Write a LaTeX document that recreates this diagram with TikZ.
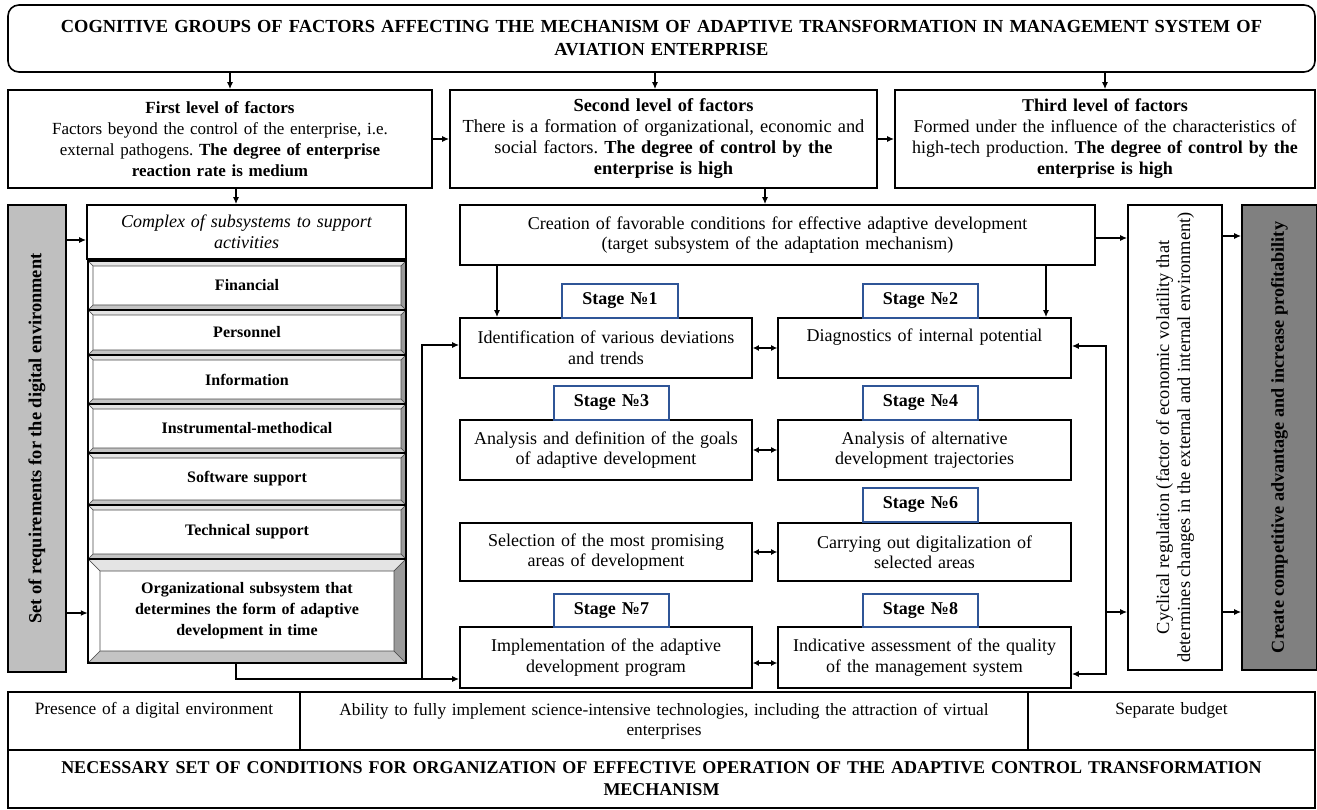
\documentclass[tikz,border=0pt]{standalone}
\usepackage{fontspec}
\setmainfont{Liberation Serif}
\usetikzlibrary{arrows.meta}
\frenchspacing
\definecolor{stageblue}{HTML}{2F5597}
\definecolor{reqgray}{HTML}{BFBFBF}
\definecolor{darkbar}{HTML}{808080}
\definecolor{bevtop}{HTML}{E4E4E4}
\definecolor{bevbot}{HTML}{C4C4C4}
\definecolor{bevright}{HTML}{9A9A9A}
\tikzset{
  base/.style={draw=black, line width=1.6pt, fill=white, inner sep=0pt, align=center,
    font=\fontsize{18}{20.5}\selectfont},
  lvl/.style={base},
  stagelbl/.style={draw=stageblue, line width=1.3pt, fill=white, inner sep=0pt, align=center,
    font=\fontsize{18}{20}\selectfont\bfseries},
  plain/.style={draw=none, inner sep=0pt, align=center},
  conn/.style={line width=1.5pt, -{Latex[length=7pt,width=6pt]}},
  dconn/.style={line width=1.5pt, {Latex[length=6pt,width=6pt]}-{Latex[length=6pt,width=6pt]}},
  bevline/.style={draw=black!70, line width=0.6pt},
}
\newcommand\boxnode[7]{%
  \pgfmathsetmacro\bxw{#5-#3}\pgfmathsetmacro\bxh{#6-#4}\pgfmathsetmacro\bxt{#5-#3-4}%
  \node[#1, minimum width=\bxw pt, minimum height=\bxh pt, text width=\bxt pt]
    (#2) at ({(#3+#5)/2},{(#4+#6)/2}) {#7};}
% bevel box: name x1 y1 x2 y2 bevel text
\newcommand\bevelbox[7]{%
  \pgfmathsetmacro\bva{#2+#6}\pgfmathsetmacro\bvb{#3+#6}%
  \pgfmathsetmacro\bvc{#4-#6}\pgfmathsetmacro\bvd{#5-#6}%
  \fill[white] (#2,#3) rectangle (#4,#5);
  \filldraw[bevline, fill=bevtop] (#2,#3) -- (#4,#3) -- (\bvc,\bvb) -- (\bva,\bvb) -- cycle;
  \filldraw[bevline, fill=bevbot] (#2,#5) -- (#4,#5) -- (\bvc,\bvd) -- (\bva,\bvd) -- cycle;
  \filldraw[bevline, fill=white] (#2,#3) -- (\bva,\bvb) -- (\bva,\bvd) -- (#2,#5) -- cycle;
  \filldraw[bevline, fill=bevright] (#4,#3) -- (\bvc,\bvb) -- (\bvc,\bvd) -- (#4,#5) -- cycle;
  \draw[line width=1.4pt] (#2,#3) rectangle (#4,#5);
  \pgfmathsetmacro\bxw{#4-#2}\pgfmathsetmacro\bxh{#5-#3}\pgfmathsetmacro\bxt{#4-#2-30}%
  \node[plain, minimum width=\bxw pt, minimum height=\bxh pt, text width=\bxt pt,
    font=\fontsize{16}{21}\selectfont\bfseries] (#1) at ({(#2+#4)/2},{(#3+#5)/2}) {#7};}
\begin{document}
\begin{tikzpicture}[x=1pt,y=-1pt]
\useasboundingbox (0,0) rectangle (1317,810);
% title
\node[base, rounded corners=11pt, minimum width=1307pt, minimum height=67pt, text width=1300pt,
  font=\fontsize{18.4}{23}\selectfont\bfseries] (title) at (661.5,38.5)
  {COGNITIVE GROUPS OF FACTORS AFFECTING THE MECHANISM OF ADAPTIVE TRANSFORMATION IN MANAGEMENT SYSTEM OF\\AVIATION ENTERPRISE};
% levels
\boxnode{lvl, font=\fontsize{17}{21}\selectfont}{lvA}{8}{90}{432}{188}{\textbf{First level of factors}\\Factors beyond the control of the enterprise, i.e.\\external pathogens. \textbf{The degree of enterprise}\\\textbf{reaction rate is medium}}
\boxnode{lvl, font=\fontsize{18.4}{21}\selectfont}{lvB}{450}{90}{877}{188}{\textbf{Second level of factors}\\There is a formation of organizational, economic and\\social factors. \textbf{The degree of control by the}\\\textbf{enterprise is high}}
\boxnode{lvl, font=\fontsize{18}{21}\selectfont}{lvC}{895}{90}{1315}{188}{\textbf{Third level of factors}\\Formed under the influence of the characteristics of\\high-tech production. \textbf{The degree of control by the}\\\textbf{enterprise is high}}
\draw[conn] (title.south -| 230,0) -- (lvA.north -| 230,0);
\draw[conn] (title.south -| 655,0) -- (lvB.north -| 655,0);
\draw[conn] (title.south -| 1105,0) -- (lvC.north -| 1105,0);
\draw[conn] (lvA.east) -- (lvB.west);
\draw[conn] (lvB.east) -- (lvC.west);
% left gray bar
\boxnode{base, fill=reqgray}{req}{8}{205}{66}{672}{}
\node[plain, rotate=90, font=\fontsize{18.4}{20}\selectfont\bfseries] (reqtxt) at (req.center) {Set of requirements for the digital environment};
% complex
\boxnode{base, font=\fontsize{18}{20.5}\selectfont\itshape}{cplx}{87}{205}{406}{259}{Complex of subsystems to support\\activities}
\draw[conn] (lvA.south -| 236,0) -- (cplx.north -| 236,0);
\bevelbox{fin}{88}{261}{406}{310}{5}{Financial\\[2pt]}
\bevelbox{pers}{88}{310}{406}{355}{5}{Personnel\\[2pt]}
\bevelbox{info}{88}{355}{406}{404}{5}{Information\\[2pt]}
\bevelbox{instr}{88}{404}{406}{453}{5}{Instrumental-methodical\\[2pt]}
\bevelbox{soft}{88}{453}{406}{505}{5}{Software support\\[2pt]}
\bevelbox{tech}{88}{505}{406}{559}{5}{Technical support\\[2pt]}
\bevelbox{org}{88}{559}{406}{663}{12}{Organizational subsystem that\\determines the form of adaptive\\development in time\\[2pt]}
\draw[conn] (req.east |- 0,240) -- (cplx.west |- 0,240);
\draw[conn] (req.east |- 0,613) -- (org.west |- 0,613);
% creation
\boxnode{base}{crea}{460}{205}{1095}{265}{Creation of favorable conditions for effective adaptive development\\(target subsystem of the adaptation mechanism)}
\draw[conn] (lvB.south -| 765,0) -- (crea.north -| 765,0);
% stage boxes
\boxnode{base}{sA}{460}{318}{752}{378}{Identification of various deviations\\and trends}
\boxnode{base}{sB}{778}{318}{1071}{378}{Diagnostics of internal potential\\\strut}
\boxnode{base}{sC}{460}{420}{752}{480}{Analysis and definition of the goals\\of adaptive development}
\boxnode{base}{sD}{778}{420}{1071}{480}{Analysis of alternative\\development trajectories}
\boxnode{base}{sE}{460}{523}{752}{581}{Selection of the most promising\\areas of development}
\boxnode{base}{sF}{778}{523}{1071}{581}{Carrying out digitalization of\\selected areas}
\boxnode{base}{sG}{460}{627}{752}{688}{Implementation of the adaptive\\development program}
\boxnode{base}{sH}{778}{627}{1071}{688}{Indicative assessment of the quality\\of the management system}
% stage labels
\boxnode{stagelbl}{lA}{562}{284}{678}{318}{Stage №1}
\boxnode{stagelbl}{lB}{863}{284}{978}{318}{Stage №2}
\boxnode{stagelbl}{lC}{554}{386}{669}{420}{Stage №3}
\boxnode{stagelbl}{lD}{863}{386}{978}{420}{Stage №4}
\boxnode{stagelbl}{lF}{863}{488}{978}{522}{Stage №6}
\boxnode{stagelbl}{lG}{554}{594}{669}{627}{Stage №7}
\boxnode{stagelbl}{lH}{863}{594}{978}{627}{Stage №8}
% arrows from creation
\draw[conn] (crea.south -| 497,0) -- (sA.north -| 497,0);
\draw[conn] (crea.south -| 1046,0) -- (sB.north -| 1046,0);
% double arrows
\draw[dconn] (sA.east |- 0,348) -- (sB.west |- 0,348);
\draw[dconn] (sC.east |- 0,450) -- (sD.west |- 0,450);
\draw[dconn] (sE.east |- 0,552) -- (sF.west |- 0,552);
\draw[dconn] (sG.east |- 0,663) -- (sH.west |- 0,663);
% cyclical and dark bar
\boxnode{base}{cyc}{1128}{205}{1222}{670}{}
\node[plain, rotate=90, font=\fontsize{18.4}{21}\selectfont] (cyctxt) at (cyc.center) {Cyclical regulation (factor of economic volatility that\\determines changes in the external and internal environment)};
\boxnode{base, fill=darkbar}{adv}{1242}{205}{1317}{670}{}
\node[plain, rotate=90, font=\fontsize{18.2}{20}\selectfont\bfseries] (advtxt) at (adv.center) {Create competitive advantage and increase profitability};
\draw[conn] (crea.east |- 0,238) -- (cyc.west |- 0,238);
\draw[conn] (cyc.east |- 0,236) -- (adv.west |- 0,236);
\draw[conn] (cyc.east |- 0,612) -- (adv.west |- 0,612);
% right feedback line
\coordinate (rt) at (1106,346);
\coordinate (rb) at (1106,674);
\draw[conn] (rb) -- (rt) -- (sB.east |- rt);
\draw[conn] (rt) -- (rb) -- (sH.east |- rb);
\draw[conn] (rb |- 0,612) -- (cyc.west |- 0,612);
% left feedback line
\coordinate (lb) at (236,679);
\coordinate (lm) at (422,679);
\draw[conn] (org.south -| lb) -- (lb) -- (sG.west |- lb);
\draw[conn] (lm) -- (lm |- 0,345) -- (sA.west |- 0,345);
% bottom table
\boxnode{base, font=\fontsize{17.3}{20}\selectfont}{cP}{8}{692}{300}{750}{Presence of a digital environment\\\strut}
\boxnode{base, font=\fontsize{17.3}{20}\selectfont}{cA}{300}{692}{1028}{750}{Ability to fully implement science-intensive technologies, including the attraction of virtual\\enterprises}
\boxnode{base, font=\fontsize{17.3}{20}\selectfont}{cB}{1028}{692}{1315}{750}{Separate budget\\\strut}
\boxnode{base, font=\fontsize{18}{22}\selectfont\bfseries}{cN}{8}{750}{1315}{808}{NECESSARY SET OF CONDITIONS FOR ORGANIZATION OF EFFECTIVE OPERATION OF THE ADAPTIVE CONTROL TRANSFORMATION\\MECHANISM}
\end{tikzpicture}
\end{document}
